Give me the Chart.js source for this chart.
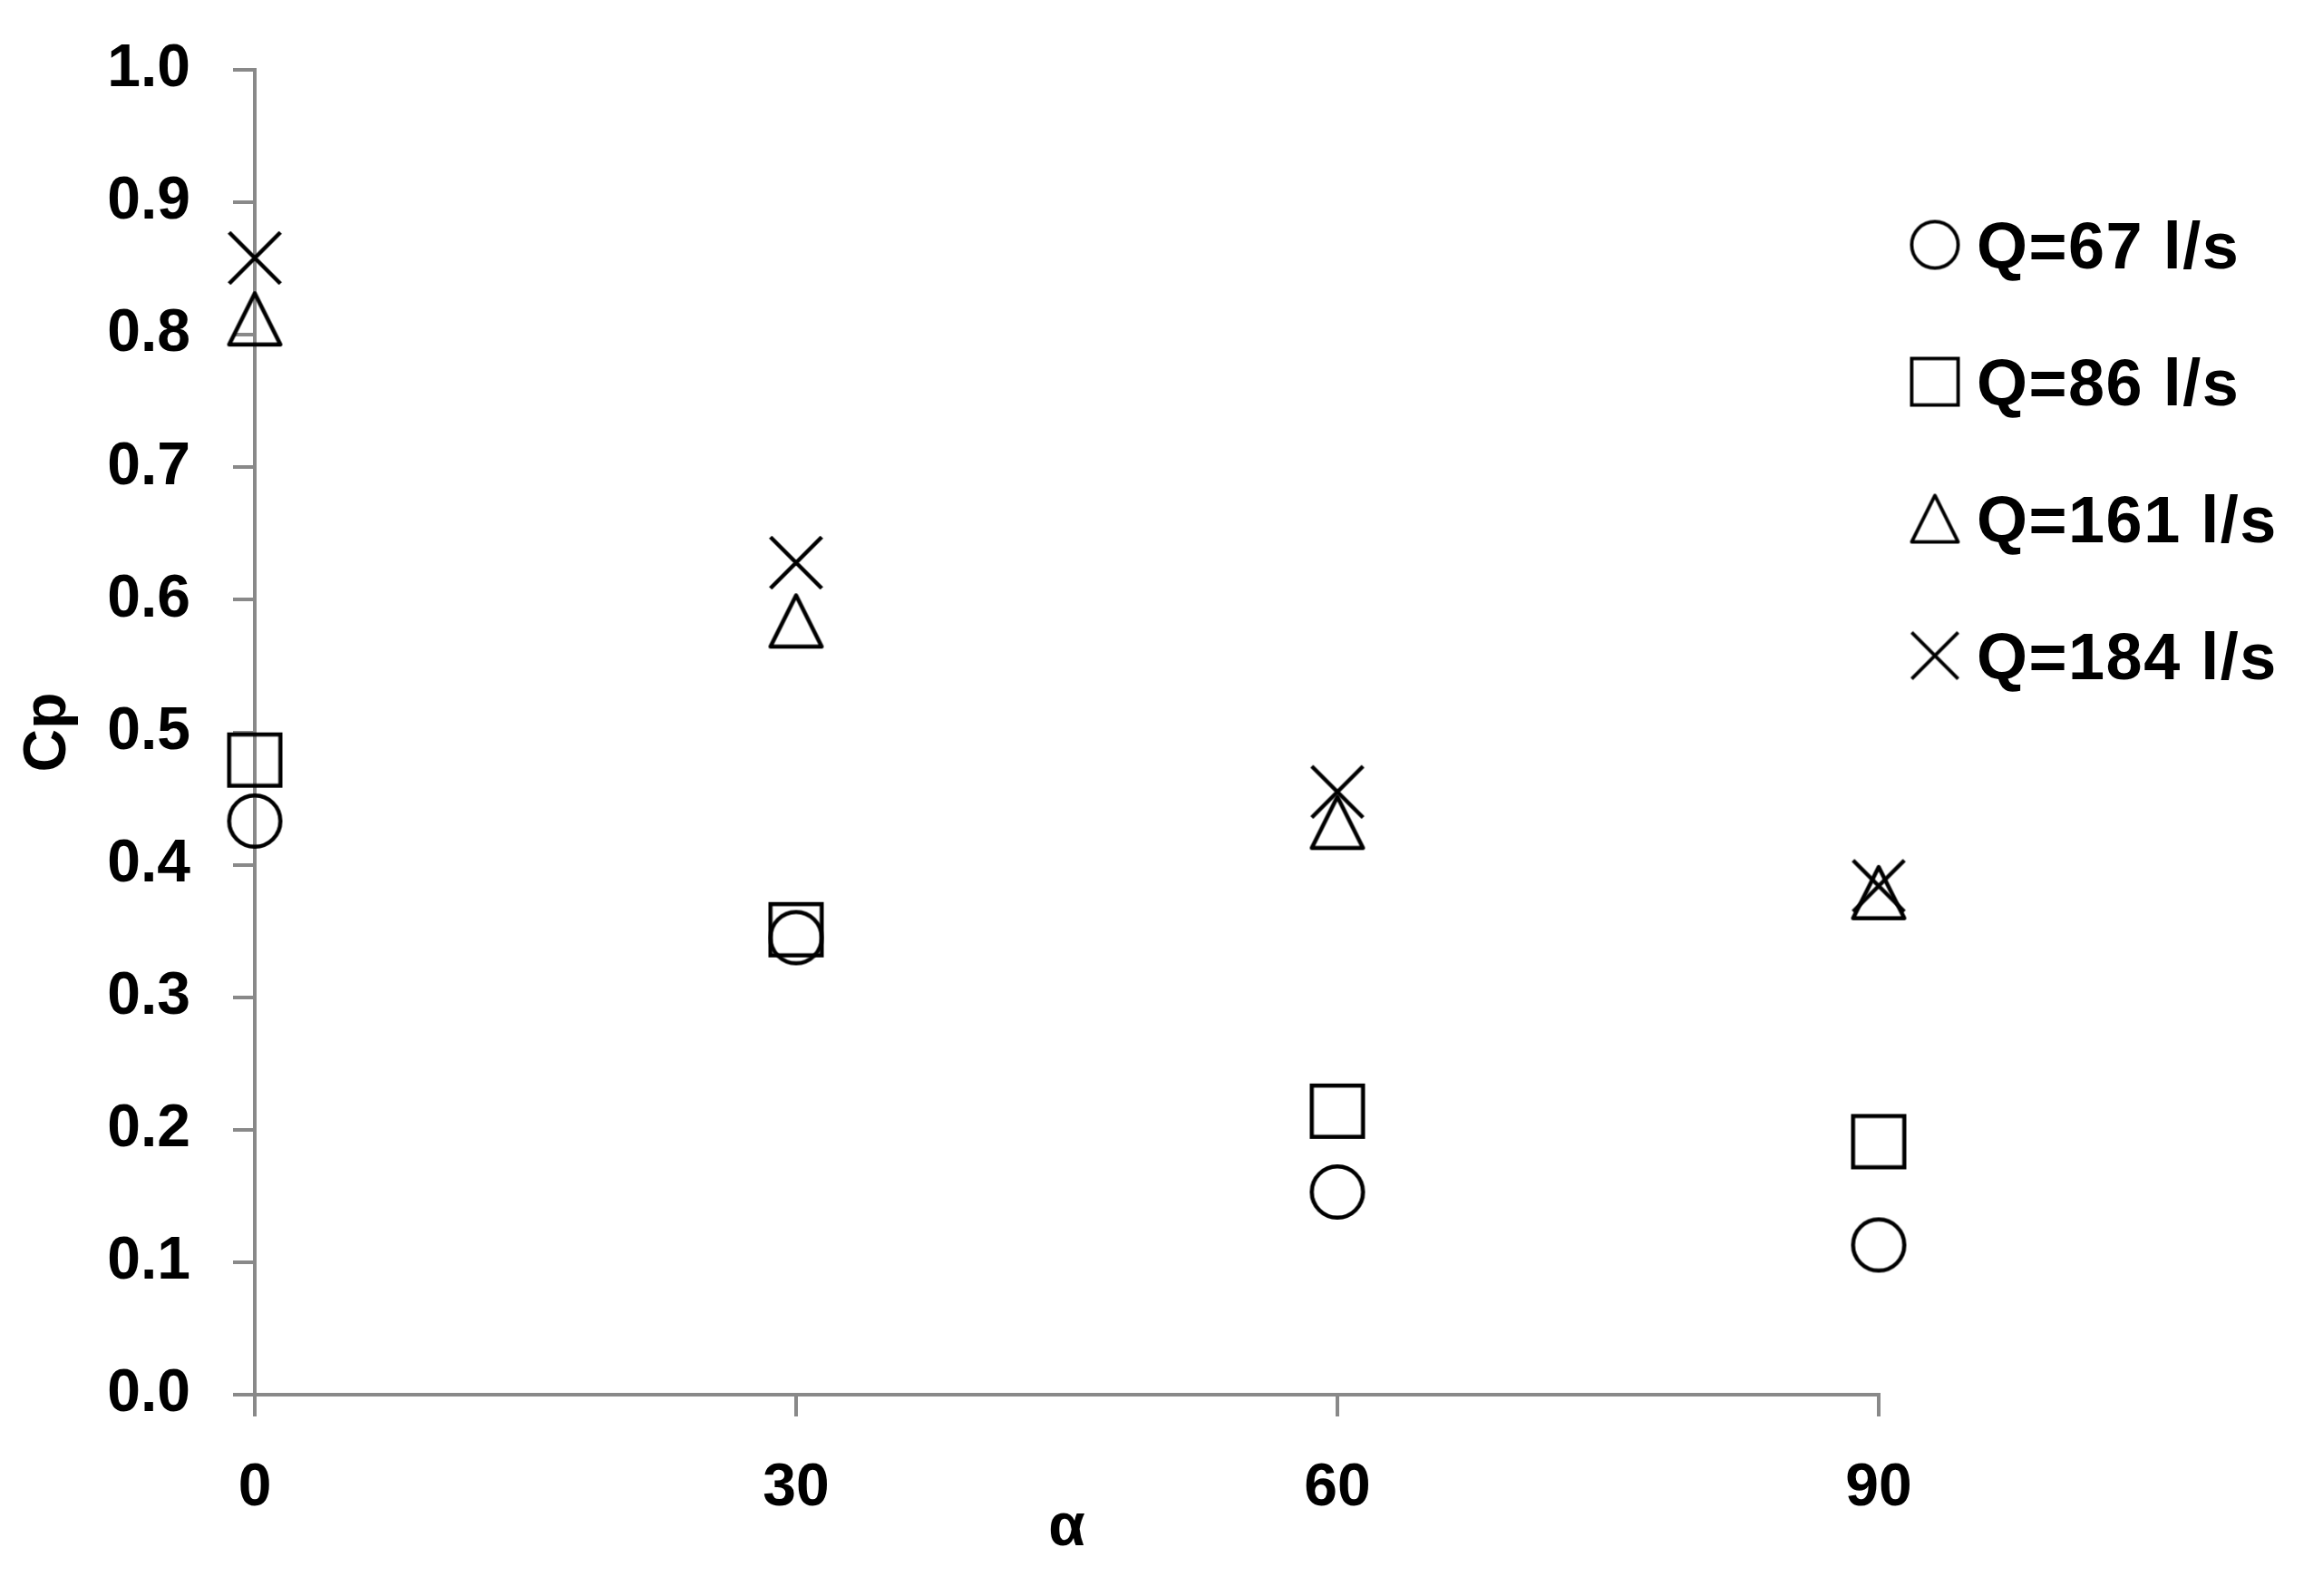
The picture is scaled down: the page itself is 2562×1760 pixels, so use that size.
<!DOCTYPE html>
<html>
<head>
<meta charset="utf-8">
<title>Cp vs α</title>
<script src="https://cdn.jsdelivr.net/npm/chart.js@4/dist/chart.umd.min.js"></script>
<style>
  html, body { margin: 0; padding: 0; background: #fff; }
  #chart { display: block; }
</style>
</head>
<body>
<canvas id="chart" width="2562" height="1760"></canvas>
<script>
const FONT = "'Liberation Sans', Arial, sans-serif";
const AXIS_GREY = "#898989";

// angle of the element (x axis)
const angles = [0, 30, 60, 90];
const xTicks = [0, 30, 60, 90];
const yTicks = [0, 0.1, 0.2, 0.3, 0.4, 0.5, 0.6, 0.7, 0.8, 0.9, 1.0];

// Cp, one array per discharge
const seriesLabels = ["Q=67 l/s", "Q=86 l/s", "Q=161 l/s", "Q=184 l/s"];
const cpQ67 = [0.433, 0.345, 0.153, 0.113];
const cpQ86 = [0.479, 0.351, 0.214, 0.191];
const cpQ161 = [0.812, 0.584, 0.432, 0.379];
const cpQ184 = [0.858, 0.628, 0.455, 0.384];
const markerKinds = ["circle", "square", "triangle", "cross"];

// Excel-like hollow markers, centred on the point
function makeMarker(kind, size, lw) {
  const pad = 4;
  const c = document.createElement("canvas");
  c.width = size + pad * 2;
  c.height = size + pad * 2;
  const ctx = c.getContext("2d");
  ctx.strokeStyle = "#000";
  ctx.lineWidth = lw;
  ctx.lineJoin = "round";
  const m = pad + lw / 2;
  const s = size - lw;
  const mid = c.width / 2;
  ctx.beginPath();
  if (kind === "circle") {
    ctx.arc(mid, mid, s / 2, 0, Math.PI * 2);
  } else if (kind === "square") {
    ctx.lineJoin = "miter";
    ctx.rect(m, m, s, s);
  } else if (kind === "triangle") {
    ctx.moveTo(mid, m);
    ctx.lineTo(m + s, m + s);
    ctx.lineTo(m, m + s);
    ctx.closePath();
  } else {
    ctx.moveTo(m, m);
    ctx.lineTo(m + s, m + s);
    ctx.moveTo(m + s, m);
    ctx.lineTo(m, m + s);
  }
  ctx.stroke();
  return c;
}

const chartMarkers = markerKinds.map((k) => makeMarker(k, 61, 4.5));
const legendMarkers = markerKinds.map((k) => makeMarker(k, 55, 3.8));

function toPoints(ys) {
  return angles.map((a, i) => ({ x: a, y: ys[i] }));
}

// legend drawn at the right, outside the plot area
const sideLegend = {
  id: "sideLegend",
  afterDraw(chart) {
    const ctx = chart.ctx;
    const area = chart.chartArea;
    ctx.save();
    ctx.font = "bold 72px " + FONT;
    ctx.fillStyle = "#000";
    ctx.textAlign = "left";
    ctx.textBaseline = "alphabetic";
    ctx.letterSpacing = "1.5px";
    chart.data.datasets.forEach((ds, i) => {
      const cy = 270 + i * 151;
      const img = legendMarkers[i];
      const cx = area.right + 62;
      ctx.drawImage(img, cx - img.width / 2, cy - img.height / 2);
      ctx.fillText(ds.label, area.right + 108, cy + 26);
    });
    ctx.restore();
  },
};

const datasets = [cpQ67, cpQ86, cpQ161, cpQ184].map((ys, i) => ({
  label: seriesLabels[i],
  data: toPoints(ys),
  pointStyle: chartMarkers[i],
  pointRadius: 30,
  showLine: false,
  clip: false,
}));

new Chart(document.getElementById("chart"), {
  type: "scatter",
  data: { datasets: datasets },
  plugins: [sideLegend],
  options: {
    responsive: false,
    animation: false,
    devicePixelRatio: 1,
    layout: { padding: { top: 77, right: 490, bottom: 0, left: 0 } },
    plugins: {
      legend: { display: false },
      tooltip: { enabled: false },
    },
    scales: {
      x: {
        type: "linear",
        min: 0,
        max: 90,
        afterBuildTicks: (scale) => {
          scale.ticks = xTicks.map((v) => ({ value: v }));
        },
        afterFit: (scale) => {
          scale.height = 222;
        },
        border: { display: true, color: AXIS_GREY, width: 4 },
        grid: {
          drawOnChartArea: false,
          drawTicks: true,
          tickLength: 24,
          color: AXIS_GREY,
          lineWidth: 4,
        },
        ticks: {
          padding: 40,
          color: "#000",
          maxRotation: 0,
          font: { family: FONT, size: 66, weight: "bold" },
        },
        title: {
          display: true,
          text: "α",
          color: "#000",
          padding: { top: 0, bottom: 35 },
          font: { family: FONT, size: 66, weight: "bold" },
        },
      },
      y: {
        type: "linear",
        min: 0,
        max: 1,
        afterBuildTicks: (scale) => {
          scale.ticks = yTicks.map((v) => ({ value: v }));
        },
        afterFit: (scale) => {
          scale.width = 281;
          // let layout.padding decide where the plot starts
          scale.paddingTop = 0;
          scale.paddingBottom = 0;
        },
        border: { display: true, color: AXIS_GREY, width: 4 },
        grid: {
          drawOnChartArea: false,
          drawTicks: true,
          tickLength: 24,
          color: AXIS_GREY,
          lineWidth: 4,
        },
        ticks: {
          padding: 47,
          color: "#000",
          callback: (v) => Number(v).toFixed(1),
          font: { family: FONT, size: 66, weight: "bold" },
        },
        title: {
          display: true,
          text: "Cp",
          color: "#000",
          padding: { top: 14, bottom: 0 },
          font: { family: FONT, size: 66, weight: "bold" },
        },
      },
    },
  },
});
</script>
</body>
</html>
